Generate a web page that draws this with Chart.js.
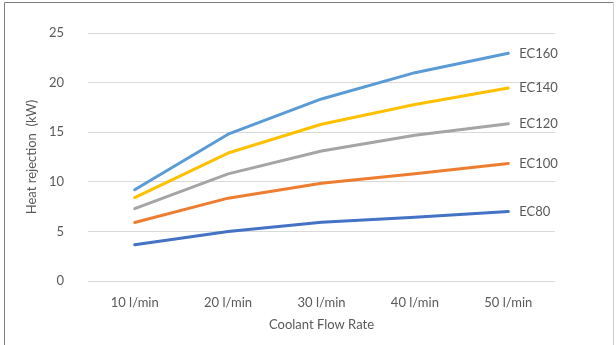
<!DOCTYPE html>
<html>
<head>
<meta charset="utf-8">
<script src="https://cdn.jsdelivr.net/npm/chart.js@4"></script>
<style>
html,body{margin:0;padding:0;background:#fff;}
#wrap{width:616px;height:345px;position:relative;}
</style>
</head>
<body>
<div id="wrap"><canvas id="c" width="616" height="345"></canvas></div>
<script>
const categories = ["10 l/min", "20 l/min", "30 l/min", "40 l/min", "50 l/min"];
const seriesNames = ["EC160", "EC140", "EC120", "EC100", "EC80"];
const ec160 = [9.2, 14.8, 18.35, 21.0, 22.95];
const ec140 = [8.4, 12.9, 15.8, 17.8, 19.45];
const ec120 = [7.3, 10.8, 13.1, 14.7, 15.85];
const ec100 = [5.9, 8.35, 9.85, 10.8, 11.85];
const ec80  = [3.65, 5.0, 5.92, 6.42, 7.0];
const seriesValues = [ec160, ec140, ec120, ec100, ec80];
const colors = ["#5B9BD5", "#FFC000", "#A5A5A5", "#ED7D31", "#4472C4"];
const FONT = "Lato, 'Open Sans', sans-serif";

const frame = {
  id: 'frame',
  beforeDraw(chart) {
    const ctx = chart.ctx;
    ctx.save();
    ctx.fillStyle = '#fff';
    ctx.fillRect(0, 0, chart.width, chart.height);
    ctx.lineWidth = 1;
    ctx.strokeStyle = '#7f7f7f';
    ctx.beginPath();
    ctx.moveTo(4.5, 345); ctx.lineTo(4.5, 2.5); ctx.lineTo(613.5, 2.5);
    ctx.stroke();
    ctx.strokeStyle = '#cfcfcf';
    ctx.beginPath();
    ctx.moveTo(613.5, 2.5); ctx.lineTo(613.5, 345);
    ctx.stroke();
    ctx.restore();
  }
};

const endLabels = {
  id: 'endLabels',
  afterDatasetsDraw(chart) {
    const ctx = chart.ctx;
    ctx.save();
    ctx.font = "13px " + FONT;
    ctx.fillStyle = '#595959';
    ctx.textAlign = 'left';
    ctx.textBaseline = 'middle';
    chart.data.datasets.forEach((ds, i) => {
      const meta = chart.getDatasetMeta(i);
      const pt = meta.data[meta.data.length - 1];
      ctx.fillText(ds.label, pt.x + 11, pt.y);
    });
    ctx.restore();
  }
};

new Chart(document.getElementById('c'), {
  type: 'line',
  data: {
    labels: categories,
    datasets: seriesNames.map((n, i) => ({
      label: n,
      data: seriesValues[i],
      borderColor: colors[i],
      backgroundColor: colors[i],
      borderWidth: 3,
      pointRadius: 0,
      tension: 0,
      borderCapStyle: 'round',
      borderJoinStyle: 'round',
      fill: false
    }))
  },
  options: {
    responsive: false,
    animation: false,
    devicePixelRatio: 1,
    layout: { padding: { left: 24, right: 61, top: 33, bottom: 12 } },
    plugins: {
      legend: { display: false },
      tooltip: { enabled: false },
      title: { display: false }
    },
    scales: {
      x: {
        type: 'category',
        offset: true,
        grid: { display: false, drawTicks: false },
        border: { display: false },
        ticks: { color: '#595959', font: { family: FONT, size: 13 }, padding: 14, maxRotation: 0 },
        title: { display: true, text: 'Coolant Flow Rate', color: '#595959', font: { family: FONT, size: 13 }, padding: { top: 6, bottom: 0 } },
        afterFit(s) { s.height = 52; }
      },
      y: {
        min: 0, max: 25,
        ticks: { stepSize: 5, color: '#595959', font: { family: FONT, size: 13 }, padding: 24 },
        grid: { color: '#d9d9d9', lineWidth: 1, drawTicks: false },
        border: { display: false },
        title: { display: true, text: 'Heat rejection  (kW)', color: '#595959', font: { family: FONT, size: 13 }, padding: 0 },
        afterFit(s) { s.width = 64; }
      }
    }
  },
  plugins: [frame, endLabels]
});
</script>
</body>
</html>
